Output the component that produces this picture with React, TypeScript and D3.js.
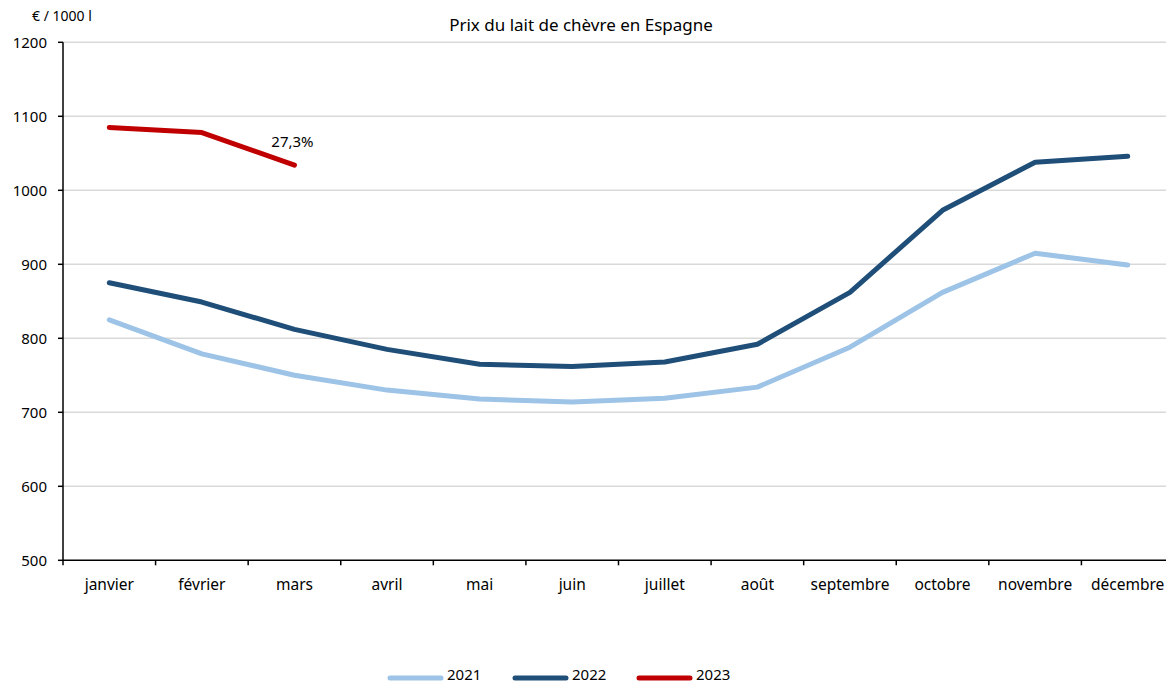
import React from "react";
import * as d3 from "d3";

const months = ["janvier", "février", "mars", "avril", "mai", "juin", "juillet", "août", "septembre", "octobre", "novembre", "décembre"];
const values2021 = [825, 779, 750, 730, 718, 714, 719, 734, 788, 862, 915, 899];
const values2022 = [875, 849, 812, 785, 765, 762, 768, 792, 862, 973, 1038, 1046];
const values2023 = [1085, 1078, 1034];
const yTicks = [500, 600, 700, 800, 900, 1000, 1100, 1200];
const seriesNames = ["2021", "2022", "2023"];
const seriesColors = ["#9dc3e6", "#1f4e79", "#c00000"];
const annotation = "27,3%";

const W = 1166, H = 684;
const FONT = "'Noto Sans', sans-serif";

export default function App() {
  const left = 63, right = 1174, top = 42.3, bottom = 560.3;
  const x = d3.scaleBand<string>().domain(months).range([left, right]);
  const y = d3.scaleLinear().domain([500, 1200]).range([bottom, top]);
  const line = d3.line<number>()
    .x((_, i) => (x(months[i]) as number) + x.bandwidth() / 2)
    .y((d) => y(d));
  const series = [values2021, values2022, values2023];
  const legendX = [388, 513, 637];
  return (
    <svg width={W} height={H} style={{ position: "absolute", left: 0, top: 0, overflow: "hidden" }} fontFamily={FONT}>
      <rect width={W} height={H} fill="#fff" />
      {yTicks.slice(1).map((t) => (
        <line key={t} x1={left} x2={right} y1={y(t)} y2={y(t)} stroke="#d9d9d9" strokeWidth={1.5} />
      ))}
      {yTicks.map((t) => (
        <g key={"yt" + t}>
          <line x1={left - 5} x2={left} y1={y(t)} y2={y(t)} stroke="#000" strokeWidth={1.5} />
          <text x={47} y={y(t)} dy="0.35em" textAnchor="end" fontSize={15} fill="#000">{t}</text>
        </g>
      ))}
      <line x1={left} x2={left} y1={top} y2={bottom} stroke="#000" strokeWidth={1.5} />
      <line x1={left} x2={right} y1={bottom} y2={bottom} stroke="#000" strokeWidth={1.5} />
      {months.map((m, i) => (
        <g key={m}>
          <line x1={x(m) as number} x2={x(m) as number} y1={bottom} y2={bottom + 5} stroke="#000" strokeWidth={1.5} />
          <text x={(x(m) as number) + x.bandwidth() / 2} y={590} textAnchor="middle" fontSize={15.5} fill="#000">{m}</text>
        </g>
      ))}
      {series.map((s, i) => (
        <path key={i} d={line(s) as string} fill="none" stroke={seriesColors[i]} strokeWidth={5} strokeLinejoin="round" strokeLinecap="round" />
      ))}
      <text x={(x(months[2]) as number) + x.bandwidth() / 2 - 2} y={147} textAnchor="middle" fontSize={15} fill="#000">{annotation}</text>
      <text x={581} y={31} textAnchor="middle" fontSize={17} fill="#000">Prix du lait de chèvre en Espagne</text>
      <text x={32} y={21} fontSize={14} fill="#000">€ / 1000 l</text>
      {seriesNames.map((n, i) => (
        <g key={n}>
          <line x1={legendX[i] + 2} x2={legendX[i] + 53} y1={678} y2={678} stroke={seriesColors[i]} strokeWidth={5} strokeLinecap="round" />
          <text x={legendX[i] + 59} y={680} fontSize={15} fill="#000">{n}</text>
        </g>
      ))}
    </svg>
  );
}
